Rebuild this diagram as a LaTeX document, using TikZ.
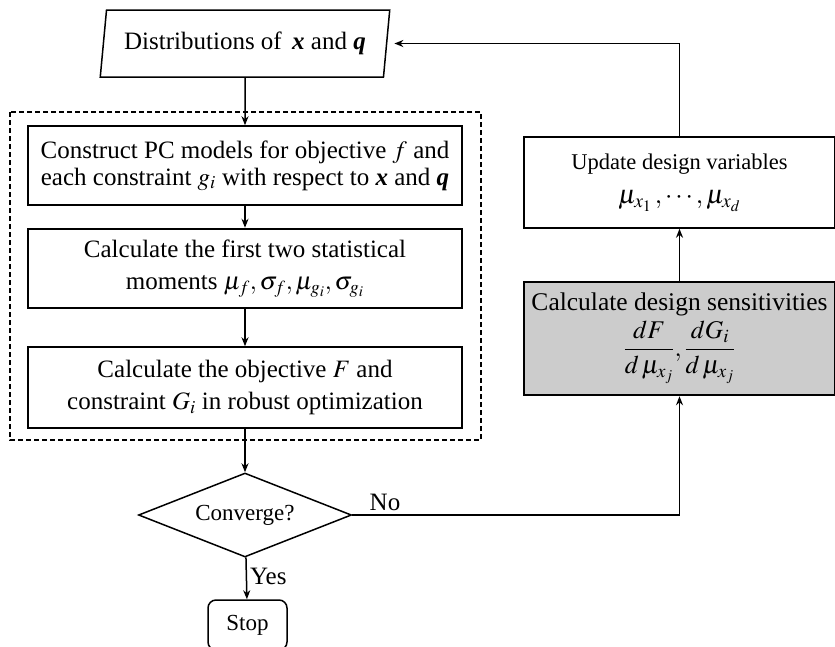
\documentclass[tikz,border=0pt]{standalone}
\usepackage{mathptmx}
\usepackage[no-math]{fontspec}
\setmainfont{Liberation Serif}
\usetikzlibrary{shapes.geometric,arrows.meta}

\tikzset{
	box/.style={draw, line width=1.5pt, minimum width=434pt, minimum height=79pt, align=center, inner sep=2pt},
	boldbox/.style={box, line width=2.5pt},
	io/.style={draw, line width=1.5pt, trapezium, trapezium left angle=76.6, trapezium right angle=103.4, trapezium stretches=true, minimum width=290pt, minimum height=67pt, inner sep=0pt},
	dashbox/.style={draw, line width=1.5pt, dash pattern=on 5pt off 3pt},
	flow/.style={->, line width=1.5pt},
}

\begin{document}
\begin{tikzpicture}[x=1pt, y=-1pt, >={Stealth[length=9pt,width=7pt]}, every node/.style={font=\fontsize{25}{27}\selectfont}]

	\def\xLeft{245}
	\def\xRight{679.5}
	\def\yNo{515}

	\useasboundingbox (0,0) rectangle (835,646);

	%GRUPO
	\draw[dashbox] (10,112) rectangle (481,440);

	%NODOS: IZQUIERDA
	\node[io] (dist) at (\xLeft,43.5) {Distributions of\, \textbf{\textit{x}} and \textbf{\textit{q}}};
	\node[box] (pcmodel) at (\xLeft,165.5) {Construct PC models for objective $f$ and\\each constraint $g_i$ with respect to \textbf{\textit{x}} and \textbf{\textit{q}}};
	\node[boldbox] (moments) at (\xLeft,268.5) {Calculate the first two statistical\\[5pt]moments $\mu_f,\sigma_f,\mu_{g_i},\sigma_{g_i}$};
	\node[box, minimum height=81pt] (robust) at (\xLeft,387.5) {Calculate the objective $F$ and\\[5pt]constraint $G_i$ in robust optimization};
	\node[draw, diamond, line width=1.5pt, aspect=2.54, minimum width=213pt, minimum height=84pt, inner sep=0pt, font=\fontsize{23}{25}\selectfont] (conv) at (\xLeft,\yNo) {Converge?};
	\node[draw, line width=1.5pt, rounded corners=8pt, minimum width=79pt, minimum height=50pt, font=\fontsize{23}{25}\selectfont] (stop) at (247.5,625) {Stop};

	%NODOS: DERECHA
	\node[box, minimum width=311pt, minimum height=91pt, font=\fontsize{22.5}{26}\selectfont] (update) at (\xRight,182.5) {Update design variables\\[8pt]{\fontsize{26.5}{28}\selectfont$\mu_{x_1}\,,\cdots,\mu_{x_d}$}};
	\node[boldbox, fill=gray!40, minimum width=311pt, minimum height=113pt, font=\fontsize{25.5}{27}\selectfont] (sens) at (\xRight,338.5) {Calculate design sensitivities\\[4pt]$\displaystyle\frac{dF}{d\,\mu_{x_j}},\frac{dG_i}{d\,\mu_{x_j}}$};

	%FLECHAS
	\draw[flow] (dist) -- (pcmodel);
	\draw[flow] (pcmodel) -- (moments);
	\draw[flow] (moments) -- (robust);
	\draw[flow] (robust) -- (conv);
	\draw[flow] (conv) -- (stop) node[pos=0.45, right, inner sep=3pt]{Yes};
	\draw[flow] (conv.east) -| (sens.south) node[pos=0.05, above, inner sep=4pt]{No};
	\draw[flow] (sens) -- (update);
	\draw[flow, shorten >=7pt] (update.north) |- (dist.east);

\end{tikzpicture}
\end{document}
